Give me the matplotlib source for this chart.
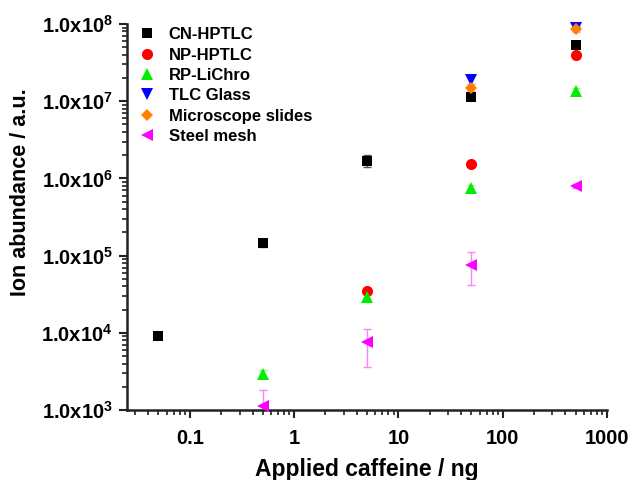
import numpy as np
import matplotlib
matplotlib.use('Agg')
import matplotlib.pyplot as plt
from matplotlib.ticker import FuncFormatter, LogLocator, NullFormatter
from matplotlib.lines import Line2D

plt.rcParams['font.family'] = ['Liberation Sans', 'DejaVu Sans']
plt.rcParams['font.weight'] = 'bold'
plt.rcParams['mathtext.fontset'] = 'custom'
plt.rcParams['mathtext.rm'] = 'Liberation Sans:bold'
plt.rcParams['mathtext.bf'] = 'Liberation Sans:bold'
plt.rcParams['mathtext.it'] = 'Liberation Sans:bold'

# caffeine amounts (ng) and ion abundance per surface
x_cn = [0.05, 0.5, 5, 50, 500]
y_cn = [9.2e3, 1.45e5, 1.7e6, 1.15e7, 5.3e7]
e_cn = [0.0, 1.5e4, 3e5, 1e6, 4e6]

x_np = [5, 50, 500]
y_np = [3.5e4, 1.55e6, 4.0e7]
e_np = [2e3, 5e4, 2e6]

x_rp = [0.5, 5, 50, 500]
y_rp = [2.95e3, 2.95e4, 7.4e5, 1.35e7]
e_rp = [3e2, 3e3, 8e4, 1.5e6]

x_tlc = [50, 500]
y_tlc = [1.9e7, 8.8e7]
e_tlc = [2.5e6, 5e6]

x_ms = [50, 500]
y_ms = [1.5e7, 8.6e7]
e_ms = [1.5e6, 8e6]

x_sm = [0.5, 5, 50, 500]
y_sm = [1.12e3, 7.5e3, 7.6e4, 8.0e5]
e_sm_lo = [0.0, 3.9e3, 3.4e4, 4e4]
e_sm_hi = [7.2e2, 3.8e3, 3.6e4, 4e4]

series = [
    ('CN-HPTLC', x_cn, y_cn, [e_cn, e_cn], 's', 'black', '#555555'),
    ('NP-HPTLC', x_np, y_np, [e_np, e_np], 'o', 'red', '#ff8080'),
    ('RP-LiChro', x_rp, y_rp, [e_rp, e_rp], '^', '#00ee00', '#80ff80'),
    ('TLC Glass', x_tlc, y_tlc, [e_tlc, e_tlc], 'v', 'blue', '#8080ff'),
    ('Microscope slides', x_ms, y_ms, [e_ms, e_ms], 'D', '#ff8000', '#ffb060'),
    ('Steel mesh', x_sm, y_sm, [e_sm_lo, e_sm_hi], '<', 'magenta', '#ff80ff'),
]
msizes = {'s': 7.5, 'o': 8, '^': 9, 'v': 9, 'D': 6.5, '<': 9}

fig = plt.figure(figsize=(6.3, 4.8), dpi=100)
ax = fig.add_axes([127/630, 1 - 410/480, (607-127)/630, (410-24)/480])

handles = []
for name, xs, ys, err, mk, col, ecol in series:
    ms = msizes[mk]
    eb = ax.errorbar(xs, ys, yerr=err, fmt='none', ecolor=ecol,
                     capsize=3, elinewidth=1, capthick=1, zorder=2)
    for art in eb.get_children():
        art.set_clip_on(False)
    ax.plot(xs, ys, linestyle='none', marker=mk, color=col,
            markersize=ms, markeredgewidth=0, zorder=3, clip_on=False)
    handles.append(Line2D([], [], linestyle='none', marker=mk, color=col,
                          markersize=ms, markeredgewidth=0, label=name))

ax.set_xscale('log')
ax.set_yscale('log')
ax.set_xlim(0.025, 1000)
ax.set_ylim(1e3, 1e8)

ax.spines['top'].set_visible(False)
ax.spines['right'].set_visible(False)
for s in ['left', 'bottom']:
    ax.spines[s].set_linewidth(1.8)
    ax.spines[s].set_color('#222222')

ax.xaxis.set_major_locator(LogLocator(base=10))
ax.xaxis.set_minor_locator(LogLocator(base=10, subs=np.arange(2, 10)))
ax.yaxis.set_minor_locator(LogLocator(base=10, subs=np.arange(2, 10)))
ax.xaxis.set_minor_formatter(NullFormatter())
ax.yaxis.set_minor_formatter(NullFormatter())

def xfmt(v, pos):
    if v < 1:
        return '%g' % v
    return '%d' % v

def yfmt(v, pos):
    e = int(round(np.log10(v)))
    return r'1.0x10$^{%d}$' % e

ax.xaxis.set_major_formatter(FuncFormatter(xfmt))
ax.yaxis.set_major_formatter(FuncFormatter(yfmt))

ax.tick_params(axis='both', which='major', direction='out', length=6, width=1.5,
               labelsize=14.5, color='#222222')
ax.tick_params(axis='both', which='minor', direction='out', length=3.5, width=1.2,
               color='#222222')
ax.tick_params(axis='x', pad=8)
ax.tick_params(axis='y', pad=4)

ax.set_xlabel('Applied caffeine / ng', fontsize=16.5, fontweight='bold')
ax.xaxis.set_label_coords(0.5, -0.124)
ax.set_ylabel('Ion abundance / a.u.', fontsize=15.5, fontweight='bold')
ax.yaxis.set_label_coords(-0.2, 0.565)

ax.legend(handles=handles, loc='upper left', bbox_to_anchor=(-0.01, 1.022),
          frameon=False, fontsize=12, handletextpad=0.5, labelspacing=0.32,
          borderaxespad=0.3, handlelength=1.6)

fig.savefig('out.png', dpi=100)
